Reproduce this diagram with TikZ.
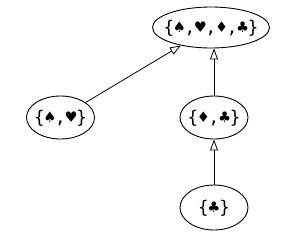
\documentclass[tikz,border=0pt]{standalone}
\usepackage{fontspec}
\newfontfamily\suitfont{DejaVu Sans Mono}
\usetikzlibrary{shapes.geometric,arrows.meta}
\newcommand{\suitset}[1]{\makebox[0pt]{\raisebox{-0.32em}[0pt][0pt]{#1}}}
\begin{document}
\begin{tikzpicture}[x=1pt,y=-1pt,
  setnode/.style={draw,ellipse,inner sep=0pt,line width=0.9pt,font=\suitfont\fontsize{17.5}{19}\selectfont},
  sub/.style={draw,line width=0.8pt,-{Triangle[open,length=11pt,width=8pt]}}]
\useasboundingbox (0,0) rectangle (283,241);
\node[setnode,minimum width=117pt,minimum height=41pt] (all) at (211,27.5) {\suitset{\{♠,♥,♦,♣\}}};
\node[setnode,minimum width=68pt,minimum height=43pt] (sh) at (60.5,117.5) {\suitset{\{♠,♥\}}};
\node[setnode,minimum width=68pt,minimum height=43pt] (dc) at (214,117.5) {\suitset{\{♦,♣\}}};
\node[setnode,minimum width=68pt,minimum height=45pt] (c) at (214,207.5) {\suitset{\{♣\}}};
\draw[sub] (sh) -- (all);
\draw[sub] (dc.north) -- (dc.north |- all.south);
\draw[sub] (c) -- (dc);
\end{tikzpicture}
\end{document}
